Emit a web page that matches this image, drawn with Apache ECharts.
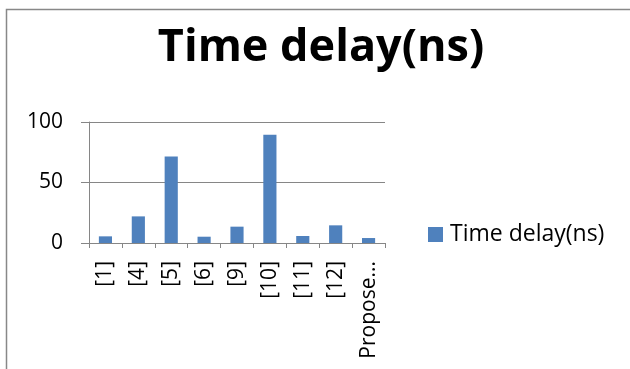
<!DOCTYPE html>
<html>
<head>
<meta charset="utf-8">
<script src="https://cdn.jsdelivr.net/npm/echarts@6/dist/echarts.min.js"></script>
<style>
  html, body { margin: 0; padding: 0; background: #fff; }
  #chart { width: 630px; height: 369px; }
</style>
</head>
<body>
<div id="chart"></div>
<script>
// 数据
const categories = ["[1]", "[4]", "[5]", "[6]", "[9]", "[10]", "[11]", "[12]", "Proposed"];
const delays = [5.5, 22, 71.5, 5.2, 13.5, 89.5, 5.8, 14.6, 4.1];
const yTicks = [0, 50, 100];
const seriesName = "Time delay(ns)";

const font = "'Open Sans', 'Liberation Sans', sans-serif";
const myChart = echarts.init(document.getElementById("chart"));

const options = {
  animation: false,
  title: {
    text: seriesName,
    left: 316,
    textAlign: "center",
    top: 21,
    textStyle: { fontFamily: font, fontSize: 45, fontWeight: "bold", color: "#000" },
  },
  // 外框
  graphic: [
    {
      type: "rect",
      shape: { x: 6.5, y: 9.5, width: 700, height: 400 },
      style: { fill: "none", stroke: "#888", lineWidth: 1.5 },
      silent: true,
    },
  ],
  legend: {
    data: [seriesName],
    left: 423,
    top: 218,
    icon: "rect",
    itemWidth: 15,
    itemHeight: 15,
    itemGap: 6,
    textStyle: { fontFamily: font, fontSize: 23, color: "#000", padding: [0, 0, 0, 2] },
  },
  grid: { left: 89, right: 245, top: 122, bottom: 126 },
  xAxis: {
    type: "category",
    data: categories,
    axisLine: { lineStyle: { color: "#868686", width: 1 } },
    axisTick: { show: true, length: 5, lineStyle: { color: "#868686" } },
    axisLabel: {
      rotate: 90,
      interval: 0,
      margin: 18,
      color: "#000",
      fontFamily: font,
      fontSize: 21,
      // 长标签截断
      formatter: (v) => (v.length > 7 ? v.slice(0, 7) + "..." : v),
    },
  },
  yAxis: {
    type: "value",
    min: yTicks[0],
    max: yTicks[yTicks.length - 1],
    interval: yTicks[1] - yTicks[0],
    axisLine: { show: true, lineStyle: { color: "#868686", width: 1 } },
    axisTick: { show: true, inside: false, length: 8, lineStyle: { color: "#868686" } },
    splitLine: { lineStyle: { color: "#868686", width: 1 } },
    axisLabel: { color: "#000", fontFamily: font, fontSize: 21, margin: 26 },
  },
  series: [
    {
      name: seriesName,
      type: "bar",
      data: delays,
      barWidth: "40%",
      itemStyle: { color: "#4F81BD" },
    },
  ],
};

myChart.setOption(options);
</script>
</body>
</html>
